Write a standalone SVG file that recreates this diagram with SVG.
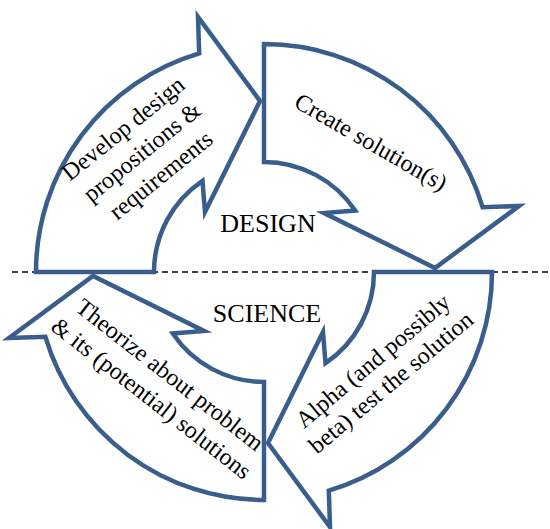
<svg xmlns="http://www.w3.org/2000/svg" width="550" height="529" viewBox="0 0 550 529">
<style>
.arr{fill:#ffffff;stroke:#3A5E8C;stroke-width:4.5;stroke-linejoin:miter;stroke-miterlimit:6}
.t{font-family:"Liberation Serif","Times New Roman",serif;font-size:24px;fill:#000000;text-anchor:middle}
.lbl{font-family:"Liberation Serif","Times New Roman",serif;font-size:26px;fill:#000000;text-anchor:middle}
.dash{stroke:#000000;stroke-width:1.6;stroke-dasharray:6 4;fill:none}
</style>
<defs>
<path id="arrow" d="M36,272 A228,228 0 0 1 199.2,53.4 L198,17 L260,101 L205,212 L202.5,180.8 A110,110 0 0 0 154,272 Z"/>
</defs>
<g id="connectors">
<line class="dash" x1="12" y1="272" x2="550" y2="272"/>
</g>
<g id="develop">
<use href="#arrow" class="arr"/>
<text class="t" transform="translate(147,158) rotate(-39)"><tspan x="0" y="-30">Develop design</tspan><tspan x="0" y="0">propositions &amp;</tspan><tspan x="0" y="30">requirements</tspan></text>
</g>
<g id="create">
<use href="#arrow" class="arr" transform="rotate(90 264 272)"/>
<text class="t" transform="translate(367,149) rotate(30)">Create solution(s)</text>
</g>
<g id="alpha">
<use href="#arrow" class="arr" transform="rotate(180 264 272)"/>
<text class="t" transform="translate(378,367) rotate(-40)"><tspan x="0" y="0">Alpha (and possibly</tspan><tspan x="0" y="28">beta) test the solution</tspan></text>
</g>
<g id="theorize">
<use href="#arrow" class="arr" transform="rotate(270 264 272)"/>
<text class="t" transform="translate(165,381) rotate(38)"><tspan x="0" y="0">Theorize about problem</tspan><tspan x="0" y="30">&amp; its (potential) solutions</tspan></text>
</g>
<g id="design">
<text class="lbl" x="268" y="232">DESIGN</text>
</g>
<g id="science">
<text class="lbl" x="267" y="322">SCIENCE</text>
</g>
</svg>
